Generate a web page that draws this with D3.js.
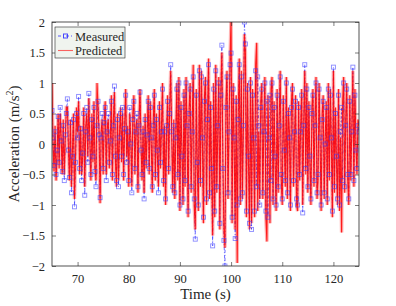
<!DOCTYPE html>
<html>
<head>
<meta charset="utf-8">
<script src="https://cdn.jsdelivr.net/npm/d3@7"></script>
<style>
  body { margin: 0; background: #fff; }
  svg text { font-family: "Liberation Serif", "DejaVu Serif", serif; fill: #262626; }
</style>
</head>
<body>
<svg id="chart" width="396" height="306"></svg>
<script>
// time axis: 5 samples per second from 65 s to 125 s
const tStart = 65;
const tStep = 0.2;

// measured acceleration (m/s^2), one row per second
const measured = [
  0.55, 0.1, -0.35, 0.2, -0.5,
  -0.1, 0.45, -0.3, 0.6, 0.05,
  -0.45, 0.3, -0.6, 0.15, 0.5,
  0.74, -0.1, -0.55, 0.35, -0.8,
  -0.2, 0.4, -1.03, -0.3, 0.5,
  0.1, 0.78, -0.4, 0.25, -0.6,
  -0.15, 0.5, -0.84, 0.2, 0.6,
  -0.3, 0.83, 0.1, -0.5, 0.4,
  -0.2, 0.6, -0.45, -0.7, 0.3,
  0.7, 0.15, -0.88, 0.1, 0.5,
  -0.4, 0.35, 0.6, -0.6, 0.2,
  0.5, -0.3, 0.05, 0.7, -0.5,
  0.3, 0.95, -0.2, -0.6, 0.4,
  -0.7, 0.1, 0.5, -0.2, 0.6,
  -0.5, 0.25, 0.8, -0.3, 0.2,
  -0.6, 0.6, 0.0, -0.8, 0.4,
  0.7, -0.4, 0.2, 0.5, -0.7,
  0.3, 0.85, -0.1, -0.5, 0.2,
  -0.9, 0.4, -0.3, 0.15, 0.7,
  -0.4, 0.6, 0.1, -0.7, 0.3,
  0.8, -0.5, 0.4, -0.1, -0.8,
  0.6, -0.3, 0.2, 0.9, -0.6,
  0.2, -0.9, 0.3, 0.7, -0.4,
  0.5, 1.3, 0.2, -0.7, 0.3,
  -0.8, 0.1, 0.9, -0.5, 1.0,
  -1.0, 0.6, -0.2, -0.9, 0.8,
  -0.6, 1.0, 0.3, -1.1, 0.5,
  0.9, -0.7, 0.2, 1.1, -0.9,
  -1.56, 0.8, -0.3, -1.0, 1.2,
  -0.6, 1.1, 0.1, -1.2, 0.7,
  1.0, -0.9, 0.4, 1.3, -0.8,
  0.6, -0.4, -1.67, 0.9, -1.1,
  1.2, -0.7, 0.3, 1.0, -1.3,
  0.8, 1.62, -0.4, -1.58, -2.0,
  0.6, 1.1, -0.8, 0.2, 1.3,
  1.49, -1.2, 0.9, 0.1, -1.55,
  0.7, -1.0, 0.4, 1.3, -0.9,
  1.1, -0.8, 0.3, 2.0, 1.64,
  -1.1, 0.9, -0.2, -1.3, 1.0,
  -1.4, 0.8, 0.1, -1.1, 1.2,
  -0.7, 1.1, 0.3, -1.0, 0.6,
  0.9, -0.8, 0.2, 1.0, -1.1,
  0.7, -1.2, 0.1, 0.8, -0.6,
  1.0, -0.9, 0.6, -0.2, -1.0,
  0.8, -0.7, 0.3, 1.1, -0.5,
  -0.9, 0.7, -0.1, -0.6, 1.0,
  -0.8, 0.5, 0.1, -1.0, 0.6,
  0.9, -0.6, 0.2, 0.7, -0.9,
  -1.0, 0.6, -0.5, 0.2, 0.8,
  -1.13, 0.3, 1.3, -0.4, 0.9,
  -0.7, 0.6, -0.2, -0.9, 0.5,
  0.8, -0.6, 0.3, 1.0, -0.8,
  -0.5, 0.9, 0.1, -1.0, 0.4,
  0.7, -0.8, 0.0, 0.6, -0.9,
  0.9, -0.5, 0.8, 0.1, -1.1,
  1.26, -0.7, 0.5, -0.2, -0.9,
  0.8, -1.0, 0.2, 0.6, -0.6,
  1.0, -0.7, 0.3, 0.9, -0.5,
  -0.9, 0.7, -0.5, 0.2, 1.26,
  -0.6, 0.8, -0.1, -0.4, 0.3,
  0.2
];

// predicted acceleration (m/s^2), same time base
const predicted = [
  1.0, 0.0, -0.45, 0.3, -0.6,
  -0.2, 0.5, -0.4, 0.5, 0.1,
  -0.5, 0.4, -0.5, 0.1, 0.6,
  0.6, 0.0, -0.6, 0.4, -0.7,
  -0.1, 0.5, -0.9, -0.2, 0.6,
  0.2, 0.7, -0.5, 0.3, -0.5,
  -0.2, 0.6, -0.7, 0.3, 0.5,
  -0.2, 0.75, 0.0, -0.6, 0.5,
  -0.3, 0.7, -0.4, -0.6, 1.0,
  0.6, 0.2, -0.97, 0.2, 0.4,
  -0.5, 0.4, 0.7, -0.5, 0.3,
  0.4, -0.4, 0.1, 0.8, -0.6,
  0.4, 0.85, -0.3, -0.7, 0.5,
  -0.6, 0.2, 0.6, -0.3, 0.5,
  -0.6, 0.3, 0.9, -0.2, 0.3,
  -0.7, 0.5, 0.1, -0.7, 0.5,
  0.8, -0.5, 0.3, 0.4, -0.8,
  0.4, 0.9, 0.0, -0.6, 0.3,
  -0.8, 0.5, -0.4, 0.2, 0.8,
  -0.5, 0.7, 0.0, -0.8, 0.4,
  0.9, -0.6, 0.5, -0.2, -0.7,
  0.7, -0.4, 0.3, 1.0, -0.7,
  0.3, -1.0, 0.2, 0.8, -0.5,
  0.6, 1.2, 0.1, -0.8, 0.4,
  -0.9, 0.2, 1.0, -0.6, 1.1,
  -1.1, 0.7, -0.1, -1.0, 0.9,
  -0.7, 1.1, 0.2, -1.2, 0.6,
  1.0, -0.8, 0.3, 1.3, -1.0,
  -1.4, 0.9, -0.4, -1.1, 1.3,
  -0.7, 1.2, 0.0, -1.3, 0.8,
  1.1, -1.0, 0.5, 1.4, -0.9,
  0.7, -0.5, -1.5, 1.0, -1.2,
  1.3, -0.8, 0.2, 1.1, -1.4,
  0.9, 1.5, -0.3, -1.4, -1.7,
  0.7, 1.2, -0.9, 0.3, 1.4,
  2.1, -1.3, 1.0, 0.0, -1.4,
  0.8, -1.95, 0.5, 1.4, -1.0,
  1.2, -0.9, 0.2, 1.8, 1.5,
  -1.2, 1.0, -0.3, -1.4, 1.1,
  -1.3, 0.9, 0.0, -1.2, 1.3,
  1.66, -1.1, 0.2, -0.9, 0.7,
  1.0, -0.9, 0.3, 1.1, -1.2,
  -1.6, 0.8, 0.0, -1.3, 0.9,
  1.1, -1.0, 0.7, -0.3, -1.1,
  0.9, -0.8, 0.4, 1.2, -0.6,
  -1.0, 0.8, 0.0, -0.7, 1.1,
  -0.9, 0.6, 0.2, -1.1, 0.7,
  1.0, -0.7, 0.1, 0.8, -1.0,
  -1.1, 0.7, -0.6, 0.3, 0.9,
  -1.0, 0.4, 1.2, -0.5, 1.0,
  -0.8, 0.7, -0.3, -1.0, 0.6,
  0.9, -0.7, 0.4, 1.1, -0.9,
  -0.6, 1.0, 0.0, -1.1, 0.5,
  0.8, -0.9, 0.1, 0.7, -1.0,
  1.0, -0.6, 0.9, 0.0, -1.2,
  1.2, -0.8, 0.6, -0.3, -1.0,
  0.9, -1.1, 0.1, -1.45, 0.7,
  1.1, -0.8, 0.4, 1.0, -0.6,
  -1.0, 0.8, -0.6, 0.3, 1.2,
  -0.7, 0.9, 0.0, -0.5, 0.4,
  0.3
];

const xTicks = [70, 80, 90, 100, 110, 120];
const yTicks = [-2, -1.5, -1, -0.5, 0, 0.5, 1, 1.5, 2];
const seriesNames = ["Measured", "Predicted"];

const margin = { left: 52, right: 37, top: 22, bottom: 40 };
const width = 396, height = 306;
const svg = d3.select("#chart");

const x = d3.scaleLinear().domain([65, 125]).range([margin.left, width - margin.right]);
const y = d3.scaleLinear().domain([-2, 2]).range([height - margin.bottom, margin.top]);

const fmt = d => (d < 0 ? "\u2212" + Math.abs(d) : "" + d);

const measPts = measured.map((v, i) => ({ t: tStart + i * tStep, v }));
const predPts = predicted.map((v, i) => ({ t: tStart + i * tStep, v }));

const line = d3.line().x(d => x(d.t)).y(d => y(d.v));

svg.append("defs").append("clipPath").attr("id", "clip")
  .append("rect")
    .attr("x", margin.left).attr("y", margin.top)
    .attr("width", x.range()[1] - margin.left)
    .attr("height", y.range()[0] - margin.top);

const plot = svg.append("g").attr("clip-path", "url(#clip)");

// measured: dash-dot line
plot.append("path")
  .datum(measPts)
  .attr("d", line)
  .attr("fill", "none")
  .attr("stroke", "#3030ff")
  .attr("stroke-width", 0.7)
  .attr("stroke-dasharray", "3,2,1,2");

// predicted: red line with a light halo
plot.append("path")
  .datum(predPts)
  .attr("d", line)
  .attr("fill", "none")
  .attr("stroke", "#ff0000")
  .attr("stroke-opacity", 0.3)
  .attr("stroke-width", 3.5);

plot.append("path")
  .datum(predPts)
  .attr("d", line)
  .attr("fill", "none")
  .attr("stroke", "#ff0000")
  .attr("stroke-opacity", 0.85)
  .attr("stroke-width", 1.1);

// measured markers, partly seen through the red
plot.selectAll(".marker")
  .data(measPts)
  .enter().append("rect")
    .attr("class", "marker")
    .attr("x", d => x(d.t) - 2)
    .attr("y", d => y(d.v) - 2)
    .attr("width", 4)
    .attr("height", 4)
    .attr("fill", "none")
    .attr("stroke", "#3a3aff")
    .attr("stroke-opacity", 0.6)
    .attr("stroke-width", 0.9);

// axes (box with inward ticks)
const axisColor = "#262626";
const x0 = margin.left, x1 = width - margin.right;
const y0 = height - margin.bottom, y1 = margin.top;

const axisB = svg.append("g").attr("transform", `translate(0,${y0})`)
  .call(d3.axisBottom(x).tickValues(xTicks).tickSize(-4).tickPadding(8).tickFormat(fmt));
const axisT = svg.append("g").attr("transform", `translate(0,${y1})`)
  .call(d3.axisTop(x).tickValues(xTicks).tickSize(-4).tickFormat(""));
const axisL = svg.append("g").attr("transform", `translate(${x0},0)`)
  .call(d3.axisLeft(y).tickValues(yTicks).tickSize(-4).tickPadding(7).tickFormat(fmt));
const axisR = svg.append("g").attr("transform", `translate(${x1},0)`)
  .call(d3.axisRight(y).tickValues(yTicks).tickSize(-4).tickFormat(""));

[axisB, axisT, axisL, axisR].forEach(a => {
  a.select(".domain").remove();
  a.selectAll("line").attr("stroke", axisColor).attr("stroke-width", 0.6);
  a.selectAll("text").attr("font-size", 12.5).attr("fill", axisColor)
    .style("font-family", '"Liberation Serif", serif');
});

svg.append("rect")
  .attr("x", x0).attr("y", y1)
  .attr("width", x1 - x0).attr("height", y0 - y1)
  .attr("fill", "none").attr("stroke", axisColor).attr("stroke-width", 0.8);

// axis labels
svg.append("text")
  .attr("x", (x0 + x1) / 2).attr("y", 299)
  .attr("text-anchor", "middle").attr("font-size", 15)
  .text("Time (s)");

const yl = svg.append("text")
  .attr("transform", `translate(19,${(y0 + y1) / 2}) rotate(-90)`)
  .attr("text-anchor", "middle").attr("font-size", 15);
yl.append("tspan").text("Acceleration (m/s");
yl.append("tspan").attr("font-size", 10).attr("dy", -6).text("2");
yl.append("tspan").attr("dy", 6).text(")");

// legend
const lg = svg.append("g").attr("transform", `translate(${x0 + 3},${y1 + 5})`);
lg.append("rect")
  .attr("width", 70).attr("height", 31)
  .attr("fill", "#f0f4ef").attr("stroke", axisColor).attr("stroke-width", 0.6);

seriesNames.forEach((name, i) => {
  const cy = 9 + i * 14.5;
  const g = lg.append("g");
  if (i === 0) {
    g.append("line").attr("x1", 3).attr("x2", 18).attr("y1", cy).attr("y2", cy)
      .attr("stroke", "#3030ff").attr("stroke-width", 0.8).attr("stroke-dasharray", "3,2,1,2");
    g.append("rect").attr("x", 8.5).attr("y", cy - 2).attr("width", 4).attr("height", 4)
      .attr("fill", "none").attr("stroke", "#3a3aff").attr("stroke-width", 0.9);
  } else {
    g.append("line").attr("x1", 3).attr("x2", 18).attr("y1", cy).attr("y2", cy)
      .attr("stroke", "#ff0000").attr("stroke-opacity", 0.6).attr("stroke-width", 1.1);
  }
  g.append("text").attr("x", 20).attr("y", cy + 4.5)
    .attr("font-size", 12.5).text(name);
});
</script>
</body>
</html>
